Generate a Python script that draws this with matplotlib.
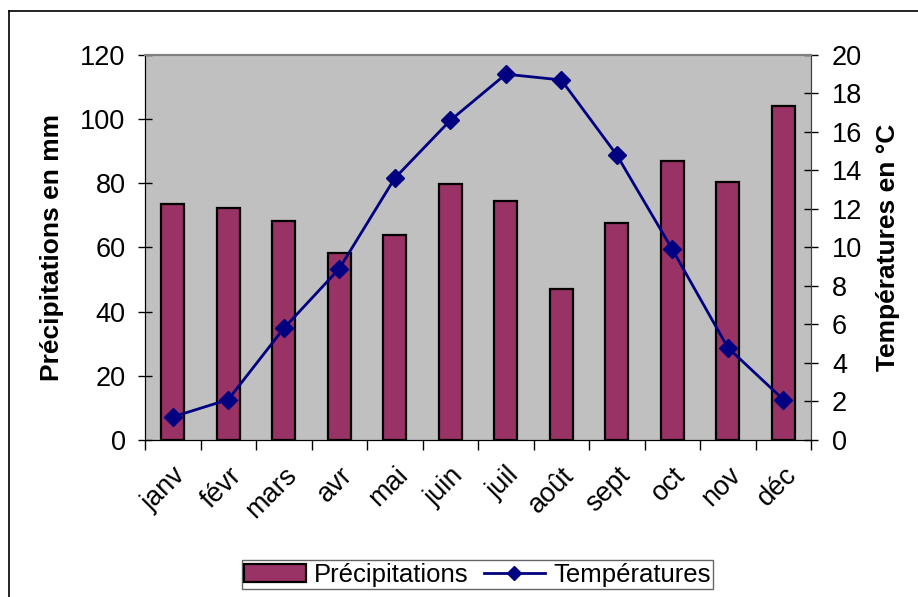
import matplotlib
matplotlib.use("Agg")
import matplotlib.pyplot as plt
from matplotlib.lines import Line2D
from matplotlib.patches import Patch
import numpy as np

plt.rcParams['font.family'] = ['Liberation Sans', 'DejaVu Sans']

# Monthly climate data
months = ['janv', 'févr', 'mars', 'avr', 'mai', 'juin',
          'juil', 'août', 'sept', 'oct', 'nov', 'déc']
precip_mm = [73.5, 72.4, 68.3, 58.3, 63.9, 79.8, 74.4, 47.1, 67.7, 86.9, 80.4, 104.1]
temp_c = [1.2, 2.1, 5.8, 8.9, 13.6, 16.6, 19.0, 18.7, 14.8, 9.9, 4.8, 2.1]

bar_color = '#993366'
line_color = '#000080'
tick_fs = 19.5

fig = plt.figure(figsize=(9.18, 5.97), dpi=100)
ax = fig.add_axes([0.158, 0.263, 0.7255, 0.645])
ax.set_facecolor('#C0C0C0')

x = np.arange(len(months))
ax.bar(x, precip_mm, width=0.42, color=bar_color, edgecolor='black', linewidth=1.6, zorder=2)
ax.set_xlim(-0.5, len(months) - 0.5)
ax.set_ylim(0, 120)
ax.set_yticks(np.arange(0, 121, 20))
ax.set_ylabel('Précipitations en mm', fontsize=19, fontweight='bold', labelpad=12)

# month labels at centres, tick marks at category boundaries
ax.set_xticks(x)
ax.set_xticklabels(months, rotation=45, ha='right', rotation_mode='anchor', fontsize=tick_fs)
ax.tick_params(axis='x', length=0, pad=16)
ax.set_xticks(np.arange(-0.5, len(months)), minor=True)
ax.tick_params(axis='x', which='minor', direction='out', length=7, width=1, color='black')
ax.tick_params(axis='y', direction='inout', length=10, width=1, labelsize=tick_fs, pad=9)

ax2 = ax.twinx()
ax2.plot(x, temp_c, color=line_color, linewidth=2, marker='D', markersize=9,
         markerfacecolor=line_color, markeredgecolor=line_color, zorder=3)
ax2.set_ylim(0, 20)
ax2.set_yticks(np.arange(0, 21, 2))
ax2.tick_params(axis='y', direction='inout', length=10, width=1, labelsize=tick_fs, pad=10)
ax2.set_ylabel('Températures en °C', fontsize=19, fontweight='bold', labelpad=10)

for a in (ax, ax2):
    a.spines['top'].set_color('#808080')
    a.spines['top'].set_linewidth(1.5)
    a.spines['left'].set_color('black')
    a.spines['right'].set_color('#404040')
    a.spines['bottom'].set_color('black')

handles = [Patch(facecolor=bar_color, edgecolor='black', linewidth=1.6),
           Line2D([0], [0], color=line_color, linewidth=2, marker='D', markersize=7)]
leg = fig.legend(handles, ['Précipitations', 'Températures'], loc='center',
                 bbox_to_anchor=(0.52, 0.037), ncol=2, fontsize=18.5, frameon=True,
                 fancybox=False, edgecolor='#404040', borderpad=0.1, handlelength=2.4,
                 handletextpad=0.3, columnspacing=0.6, borderaxespad=0)
leg.get_frame().set_linewidth(1)

# outer chart frame
fig.add_artist(Line2D([0.0093, 0.0093], [0, 0.9816], color='black', linewidth=1.2))
fig.add_artist(Line2D([0.0093, 1.0], [0.9816, 0.9816], color='black', linewidth=1.2))

fig.savefig('out.png', dpi=100)
